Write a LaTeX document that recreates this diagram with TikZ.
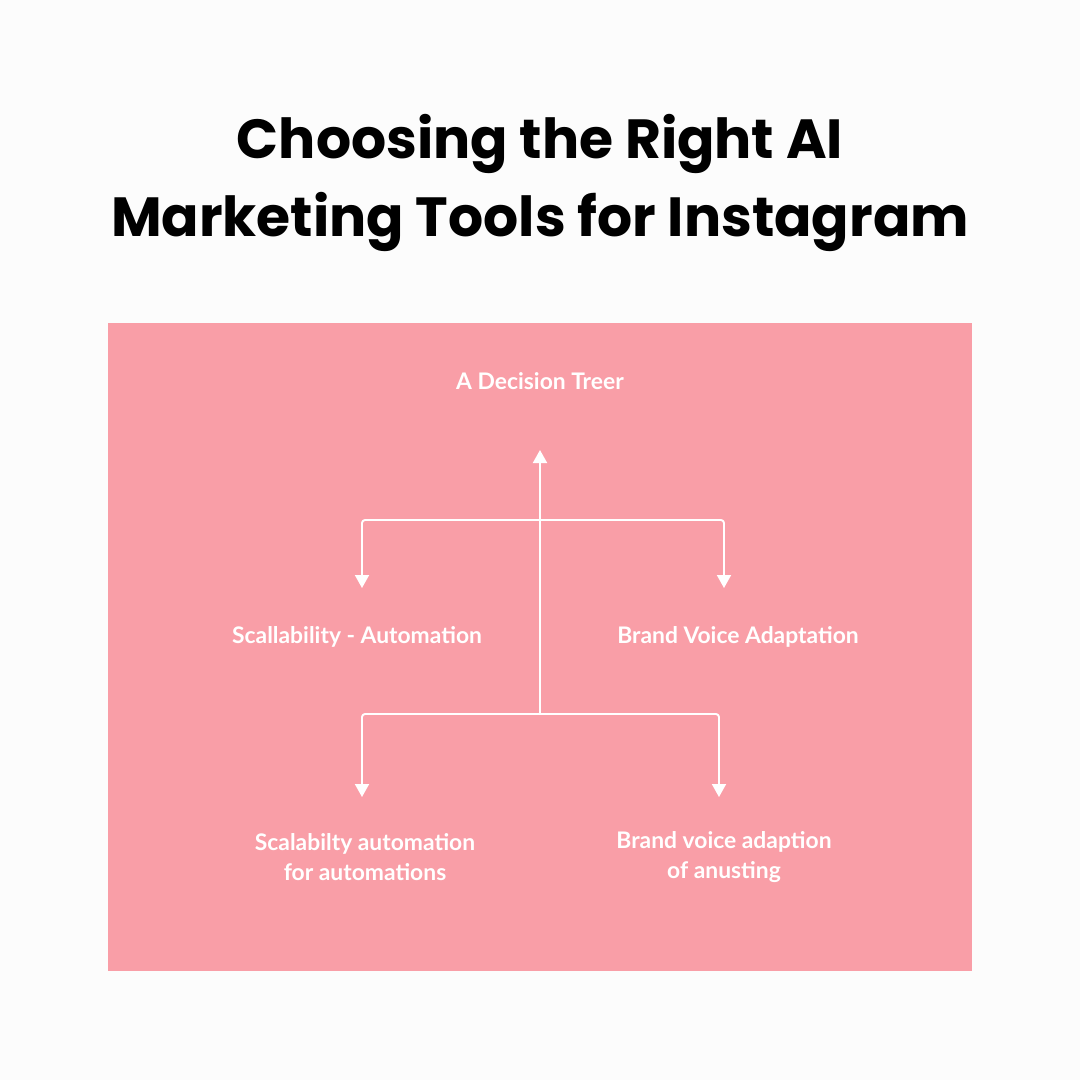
\documentclass[tikz,border=0pt]{standalone}
\usepackage{fontspec}
\setmainfont{Poppins}
\newfontfamily\lblfont{Lato}
\usetikzlibrary{arrows.meta}
\definecolor{pagebg}{RGB}{252,252,252}
\definecolor{panelpink}{RGB}{249,158,167}
\tikzset{
  titletext/.style={font=\fontsize{15.7pt}{22.2pt}\selectfont\bfseries, text=black, align=center},
  leaf/.style={font=\lblfont\bfseries\fontsize{6.5pt}{8.3pt}\selectfont, text=white, align=center, inner sep=0pt},
  branch/.style={white, line width=0.55pt, rounded corners=0.3mm},
  tip/.style={-{Triangle[width=1.4mm,length=1.3mm]}},
}
\begin{document}
\begin{tikzpicture}[x=0.1mm, y=-0.1mm, line join=round, line cap=round]
  \fill[pagebg] (0,0) rectangle (1080,1080);
  \useasboundingbox (0,0) rectangle (1080,1080);
  % panel
  \fill[panelpink] (108,323) rectangle (972,971);

  % title
  \node[titletext] (title) at (540,183) {Choosing the Right AI\\Marketing Tools for Instagram};

  % nodes of the tree
  \node[leaf] (root) at (540,381) {A Decision Treer};
  \node[leaf] (scale) at (357,637) {Scallability - Automation};
  \node[leaf] (voice) at (738,637) {Brand Voice Adaptation};
  \node[leaf] (scaleb) at (365,857) {Scalabilty automation\\for automations};
  \node[leaf] (voiceb) at (724,857) {Brand voice adaption\\of anusting};

  % junctions and arrow tips
  \coordinate (upper) at (540,520);
  \coordinate (lower) at (540,714);
  \coordinate (tiproot) at (540,450);
  \coordinate (tipscale) at (362,588);
  \coordinate (tipvoice) at (724,588);
  \coordinate (tipscaleb) at (362,797);
  \coordinate (tipvoiceb) at (719,797);

  % connectors
  \draw[branch, tip] (lower) -- (tiproot);
  \draw[branch, tip] (upper) -| (tipscale);
  \draw[branch, tip] (upper) -| (tipvoice);
  \draw[branch, tip] (lower) -| (tipscaleb);
  \draw[branch, tip] (lower) -| (tipvoiceb);
\end{tikzpicture}
\end{document}
